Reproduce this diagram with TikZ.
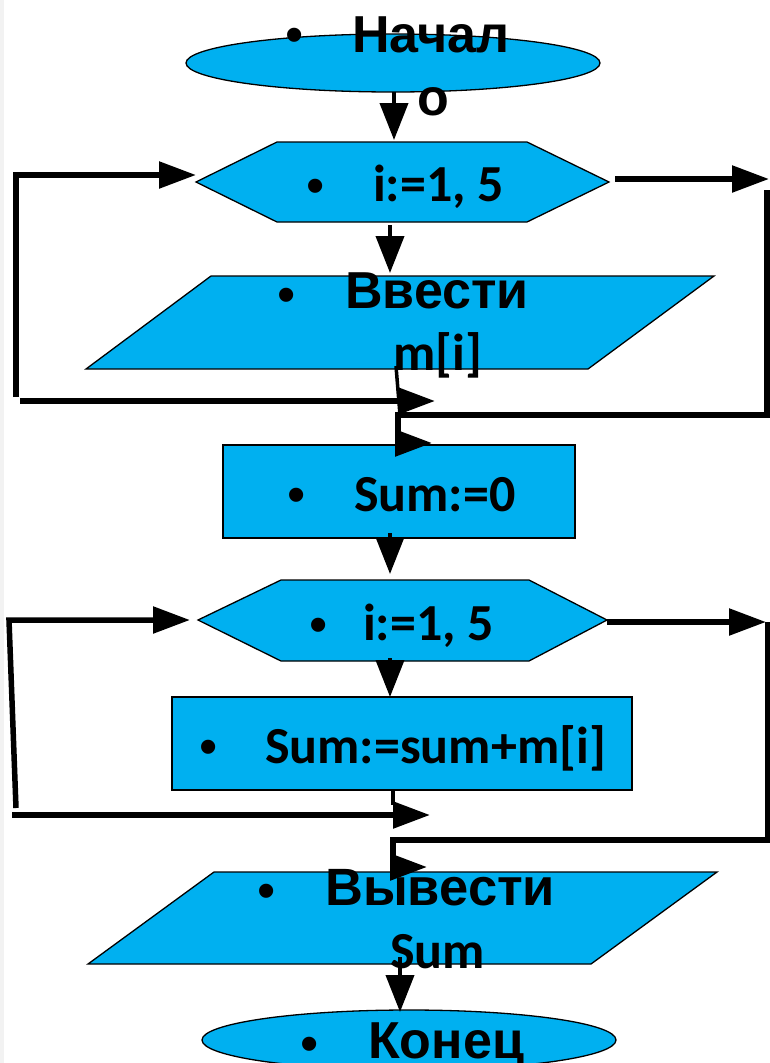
\documentclass[tikz,border=0pt]{standalone}
\usepackage{fontspec}
\setmainfont{Liberation Sans}
\newfontfamily\calfont{Carlito}
\usetikzlibrary{arrows.meta}
\definecolor{flowblue}{RGB}{0,176,240}
\tikzset{
  blk/.style={fill=flowblue, draw=black, line width=1.3pt},
  loopline/.style={draw=black, line width=5.5pt},
  loopto/.style={draw=black, line width=5.5pt, -{Triangle[length=37pt,width=26pt]}},
  stemto/.style={draw=black, line width=4pt, -{Triangle[length=37pt,width=28pt]}},
  stemline/.style={draw=black, line width=3.5pt},
  atxt/.style={anchor=base west, inner sep=0pt, font=\bfseries\fontsize{52}{60}\selectfont},
  ctxt/.style={anchor=base west, inner sep=0pt, font=\calfont\bfseries\fontsize{52}{60}\selectfont},
  bul/.style={anchor=base, inner sep=0pt, font=\fontsize{52}{60}\selectfont}
}
\begin{document}
\begin{tikzpicture}[x=1pt,y=-1pt]
\useasboundingbox (0,0) rectangle (770,1063);
\clip (0,0) rectangle (770,1063);
\fill[gray!10] (0,0) rectangle (4,1063);

% blocks
\filldraw[blk] (393,63) ellipse [x radius=207pt, y radius=29pt];
\filldraw[blk] (196,182) -- (277,142) -- (527,142) -- (609,182) -- (527,222) -- (277,222) -- cycle;
\filldraw[blk] (211,276) -- (714,276) -- (588,369) -- (86,369) -- cycle;
\filldraw[blk] (223,445) rectangle (575,538);
\filldraw[blk] (198,620) -- (281,580) -- (529,580) -- (607,620) -- (529,661) -- (281,661) -- cycle;
\filldraw[blk] (172,697) rectangle (632,790);
\filldraw[blk] (214,872) -- (717,872) -- (591,964) -- (88,964) -- cycle;
\filldraw[blk] (409,1040) ellipse [x radius=207pt, y radius=30pt];

% texts
\node[bul] (b1) at (295,52) {•};
\node[atxt] (t1) at (352,52) {Начал};
\node[atxt] (t1b) at (417,115) {о};
\node[bul] (b2) at (316,203) {•};
\node[ctxt] (t2) at (373,201) {i:=1, 5};
\node[bul] (b3) at (287,312) {•};
\node[atxt] (t3) at (345,308) {Ввести};
\node[ctxt] (t3b) at (393,370) {m[i]};
\node[bul] (b4) at (297,512) {•};
\node[ctxt] (t4) at (354,511) {Sum:=0};
\node[bul] (b5) at (319,642) {•};
\node[ctxt] (t5) at (363,640) {i:=1, 5};
\node[bul] (b6) at (209,764) {•};
\node[ctxt] (t6) at (265,763) {Sum:=sum+m[i]};
\node[bul] (b7) at (267,908) {•};
\node[atxt, font=\bfseries\fontsize{52.5}{60}\selectfont] (t7) at (325,905) {Вывести};
\node[ctxt] (t7b) at (390,968) {Sum};
\node[bul] (b8) at (310,1061) {•};
\node[atxt] (t8) at (368,1058) {Конец};

% connector points
\coordinate (s1a) at (394,92);   \coordinate (s1b) at (394,140);
\coordinate (s2a) at (390,225);  \coordinate (s2b) at (390,273);
\coordinate (l1a) at (16,397);   \coordinate (l1b) at (16,175);  \coordinate (l1c) at (196,175);
\coordinate (l1d) at (20,401);   \coordinate (l1e) at (435,401);
\coordinate (m1a) at (396,366);  \coordinate (m1b) at (400,415);
\coordinate (r1a) at (615,179);  \coordinate (r1b) at (769,179);
\coordinate (r1c) at (767,190);  \coordinate (r1d) at (767,415);
\coordinate (r1e) at (398,415);  \coordinate (r1f) at (398,443);  \coordinate (r1g) at (432,443);
\coordinate (s3a) at (390,533);  \coordinate (s3b) at (390,574);
\coordinate (l2a) at (16,808);   \coordinate (l2b) at (9,620);   \coordinate (l2c) at (190,620);
\coordinate (l2d) at (12,815);   \coordinate (l2e) at (430,815);
\coordinate (s4a) at (390,658);  \coordinate (s4b) at (390,697);
\coordinate (m2a) at (393,790);  \coordinate (m2b) at (393,805);
\coordinate (r2a) at (607,622);  \coordinate (r2b) at (766,622);
\coordinate (r2c) at (768,622);  \coordinate (r2d) at (768,840);
\coordinate (r2e) at (393,840);  \coordinate (r2f) at (393,867);  \coordinate (r2g) at (427,867);
\coordinate (s5a) at (400,957);  \coordinate (s5b) at (400,1012);

% connectors
\draw[stemto] (s1a) -- (s1b);
\draw[stemto] (s2a) -- (s2b);
\draw[loopto, line join=miter] (l1a) -- (l1b) -- (l1c);
\draw[loopto] (l1d) -- (l1e);
\draw[stemline] (m1a) -- (m1b);
\draw[loopto] (r1a) -- (r1b);
\draw[loopline, line join=miter] (r1c) -- (r1d) -- (r1e) -- (r1f);
\draw[loopto] (r1f) -- (r1g);
\draw[stemto] (s3a) -- (s3b);
\draw[loopto, line join=miter] (l2a) -- (l2b) -- (l2c);
\draw[loopto] (l2d) -- (l2e);
\draw[stemto] (s4a) -- (s4b);
\draw[stemline] (m2a) -- (m2b);
\draw[loopto] (r2a) -- (r2b);
\draw[loopline, line join=miter] (r2c) -- (r2d) -- (r2e) -- (r2f);
\draw[loopto] (r2f) -- (r2g);
\draw[stemto] (s5a) -- (s5b);
\end{tikzpicture}
\end{document}
